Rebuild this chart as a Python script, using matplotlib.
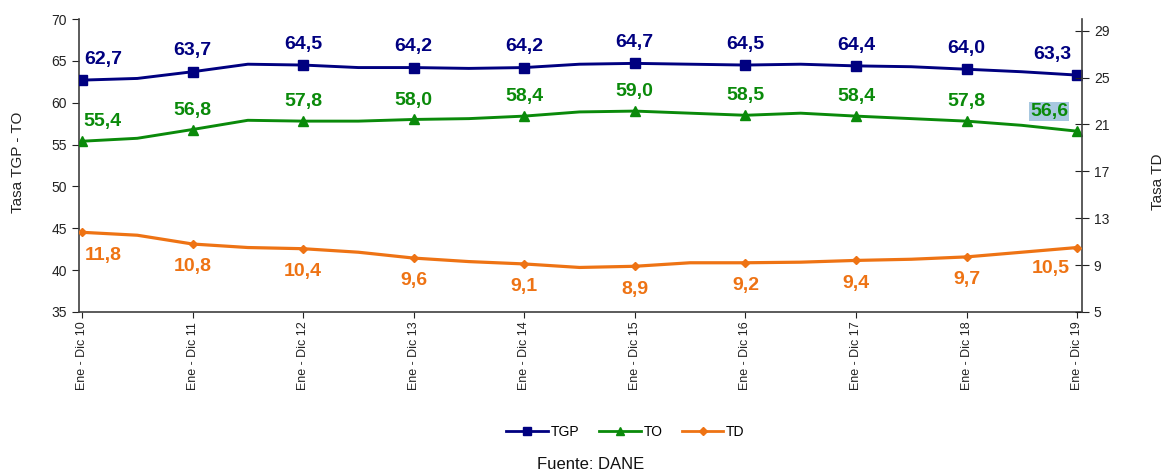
import matplotlib
matplotlib.use('Agg')
import matplotlib.pyplot as plt
from matplotlib.lines import Line2D

plt.rcParams['font.family'] = ['Liberation Sans', 'DejaVu Sans']

categories = ['Ene - Dic 10', 'Ene - Dic 11', 'Ene - Dic 12', 'Ene - Dic 13', 'Ene - Dic 14',
              'Ene - Dic 15', 'Ene - Dic 16', 'Ene - Dic 17', 'Ene - Dic 18', 'Ene - Dic 19']

# Annual values (labelled markers)
tgp = [62.7, 63.7, 64.5, 64.2, 64.2, 64.7, 64.5, 64.4, 64.0, 63.3]
to = [55.4, 56.8, 57.8, 58.0, 58.4, 59.0, 58.5, 58.4, 57.8, 56.6]
td = [11.8, 10.8, 10.4, 9.6, 9.1, 8.9, 9.2, 9.4, 9.7, 10.5]

# Mid-period values of the curves between markers
tgp_mid = [62.9, 64.6, 64.2, 64.1, 64.6, 64.6, 64.6, 64.3, 63.7]
to_mid = [55.75, 57.9, 57.8, 58.1, 58.9, 58.75, 58.75, 58.1, 57.3]
td_mid = [11.55, 10.5, 10.1, 9.3, 8.8, 9.2, 9.25, 9.5, 10.1]

left_ticks = [35, 40, 45, 50, 55, 60, 65, 70]
right_ticks = [5, 9, 13, 17, 21, 25, 29]

C_TGP = '#000080'
C_TO = '#0a8a0a'
C_TD = '#ee7314'


def interleave(main, mid):
    xs, ys = [], []
    for i, v in enumerate(main):
        xs.append(i)
        ys.append(v)
        if i < len(mid):
            xs.append(i + 0.5)
            ys.append(mid[i])
    return xs, ys


fig = plt.figure(figsize=(11.67, 4.74), dpi=100)
ax = fig.add_axes([0.0677, 0.3418, 0.8595, 0.6181])
ax2 = ax.twinx()

x1, y1 = interleave(tgp, tgp_mid)
x2, y2 = interleave(to, to_mid)
x3, y3 = interleave(td, td_mid)

ax.plot(x1, y1, color=C_TGP, lw=2.1, marker='s', ms=7, markevery=2, zorder=3)
ax.plot(x2, y2, color=C_TO, lw=2.1, marker='^', ms=7, markevery=2, zorder=3)
ax2.plot(x3, y3, color=C_TD, lw=2.3, marker='D', ms=4.5, markevery=2, zorder=3)

ax.set_xlim(-0.027, 9.045)
ax.set_ylim(35, 70)
ax2.set_ylim(5, 30)
ax.set_yticks(left_ticks)
ax2.set_yticks(right_ticks)
ax.set_xticks(range(len(categories)))
ax.set_xticklabels(categories, rotation=90, fontsize=9)

for a in (ax, ax2):
    a.spines['top'].set_visible(False)
    for s in a.spines.values():
        s.set_color('#404040')
        s.set_linewidth(1.2)
ax.spines['right'].set_visible(False)
ax2.spines['left'].set_visible(False)
ax2.spines['bottom'].set_visible(False)

ax.tick_params(axis='y', direction='out', length=5, labelsize=10, colors='#222222')
ax.tick_params(axis='x', direction='out', length=4, labelsize=9, colors='#222222', pad=3)
ax2.tick_params(axis='y', direction='inout', length=10, labelsize=10, colors='#222222')

ax.set_ylabel('Tasa TGP - TO', fontsize=11, color='#222222')
ax.yaxis.set_label_coords(-0.054, 0.512)
ax2.set_ylabel('Tasa TD', fontsize=11, color='#222222')
ax2.yaxis.set_label_coords(1.069, 0.444)


def fmt(v):
    return f'{v:.1f}'.replace('.', ',')


n = len(categories)
for i in range(n):
    dx = 0
    if i == 0:
        dx = 15
    elif i == n - 1:
        dx = -18
    ax.annotate(fmt(tgp[i]), (i, tgp[i]), xytext=(dx, 15), textcoords='offset points',
                ha='center', va='center', fontsize=14, fontweight='bold', color=C_TGP)
    bbox = None
    if i == n - 1:
        bbox = dict(boxstyle='square,pad=0.05', facecolor='#a8c8e0', edgecolor='none')
    ax.annotate(fmt(to[i]), (i, to[i]), xytext=(dx - (2 if i == n - 1 else 0), 14),
                textcoords='offset points', ha='center', va='center', fontsize=14,
                fontweight='bold', color=C_TO, bbox=bbox)
    tdy = -16.5 if i < n - 1 else -15
    ax2.annotate(fmt(td[i]), (i, td[i]), xytext=(dx - (1 if i == n - 1 else 0), tdy),
                 textcoords='offset points', ha='center', va='center', fontsize=14,
                 fontweight='bold', color=C_TD)

handles = [
    Line2D([], [], color=C_TGP, lw=2, marker='s', ms=6),
    Line2D([], [], color=C_TO, lw=2, marker='^', ms=6),
    Line2D([], [], color=C_TD, lw=2, marker='D', ms=4),
]
fig.legend(handles, ['TGP', 'TO', 'TD'], loc='center', bbox_to_anchor=(0.536, 0.089),
           ncol=3, frameon=False, fontsize=10, handlelength=3.0, handletextpad=0.2,
           columnspacing=1.4)

fig.text(0.506, 0.019, 'Fuente: DANE', ha='center', va='center', fontsize=12, color='#111111')

fig.savefig('out.png', dpi=100)
